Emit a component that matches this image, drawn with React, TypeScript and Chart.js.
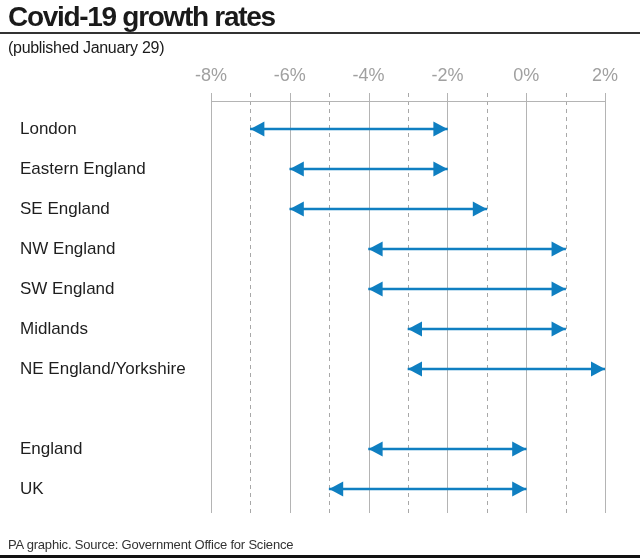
import React, { useEffect, useRef } from "react";
import { Chart, registerables } from "chart.js";

Chart.register(...registerables);

const categories = [
  "London",
  "Eastern England",
  "SE England",
  "NW England",
  "SW England",
  "Midlands",
  "NE England/Yorkshire",
  "",
  "England",
  "UK",
];
const lowValues = [-7, -6, -6, -4, -4, -3, -3, null, -4, -5];
const highValues = [-2, -2, -1, 1, 1, 1, 2, null, 0, 0];
const tickValues = [-8, -7, -6, -5, -4, -3, -2, -1, 0, 1, 2];
const tickLabels: Record<number, string> = { [-8]: "-8%", [-6]: "-6%", [-4]: "-4%", [-2]: "-2%", 0: "0%", 2: "2%" };

const BLUE = "#0f7fc1";
const FONT = "'Liberation Sans', Arial, sans-serif";

const gridPlugin = {
  id: "customGrid",
  beforeDatasetsDraw(chart: any) {
    const { ctx, chartArea, scales } = chart;
    const xs = scales.x;
    const topLine = chartArea.top - 7.5;
    ctx.save();
    ctx.lineWidth = 1;
    tickValues.forEach((v) => {
      const px = Math.round(xs.getPixelForValue(v)) + 0.5;
      const solid = v % 2 === 0;
      ctx.strokeStyle = solid ? "#b4b4b4" : "#a8a8a8";
      ctx.setLineDash(solid ? [] : [4, 4]);
      ctx.beginPath();
      ctx.moveTo(px, chartArea.top - 16);
      ctx.lineTo(px, chartArea.bottom + 4);
      ctx.stroke();
    });
    ctx.setLineDash([]);
    ctx.strokeStyle = "#b4b4b4";
    ctx.beginPath();
    ctx.moveTo(Math.round(xs.getPixelForValue(-8)), topLine);
    ctx.lineTo(Math.round(xs.getPixelForValue(2)) + 1, topLine);
    ctx.stroke();
    ctx.restore();
  },
};

const arrowPlugin = {
  id: "arrowHeads",
  afterDatasetsDraw(chart: any) {
    const { ctx } = chart;
    const meta = chart.getDatasetMeta(0);
    ctx.save();
    ctx.fillStyle = BLUE;
    const len = 14;
    const half = 7.5;
    meta.data.forEach((el: any, i: number) => {
      if (lowValues[i] == null) return;
      const y = el.y;
      const right = Math.max(el.x, el.base);
      const left = Math.min(el.x, el.base);
      ctx.beginPath();
      ctx.moveTo(right, y);
      ctx.lineTo(right - len, y - half);
      ctx.lineTo(right - len, y + half);
      ctx.closePath();
      ctx.fill();
      ctx.beginPath();
      ctx.moveTo(left, y);
      ctx.lineTo(left + len, y - half);
      ctx.lineTo(left + len, y + half);
      ctx.closePath();
      ctx.fill();
    });
    ctx.restore();
  },
};

export default function App() {
  const ref = useRef<HTMLCanvasElement | null>(null);

  useEffect(() => {
    if (!ref.current) return;
    const data = categories.map((_, i) =>
      lowValues[i] == null ? null : [lowValues[i] as number, highValues[i] as number]
    );
    const chart = new Chart(ref.current, {
      type: "bar",
      data: {
        labels: categories,
        datasets: [
          {
            data: data as any,
            backgroundColor: BLUE,
            borderWidth: 0,
            barThickness: 2,
            borderSkipped: false,
          },
        ],
      },
      options: {
        indexAxis: "y",
        animation: false,
        responsive: false,
        maintainAspectRatio: false,
        layout: { padding: { left: 20, right: 33, top: 0, bottom: 49 } },
        plugins: {
          legend: { display: false },
          tooltip: { enabled: false },
        },
        scales: {
          x: {
            position: "top",
            min: -8,
            max: 2,
            grid: { display: false, drawTicks: false },
            border: { display: false },
            afterBuildTicks(scale: any) {
              scale.ticks = tickValues.map((v) => ({ value: v }));
            },
            afterFit(scale: any) {
              scale.height = 109;
            },
            ticks: {
              autoSkip: false,
              maxRotation: 0,
              padding: 22,
              color: "#a0a0a0",
              font: { family: FONT, size: 18, weight: "normal" as any },
              callback: (v: any) => tickLabels[Number(v)] ?? "",
            },
          },
          y: {
            grid: { display: false, drawTicks: false },
            border: { display: false },
            afterFit(scale: any) {
              scale.width = 191;
            },
            ticks: {
              crossAlign: "far",
              padding: 0,
              color: "#1e1e1e",
              font: { family: FONT, size: 17 },
              autoSkip: false,
            },
          },
        },
      },
      plugins: [gridPlugin, arrowPlugin],
    });
    return () => chart.destroy();
  }, []);

  return (
    <div
      style={{
        position: "absolute",
        left: 0,
        top: 0,
        width: 640,
        height: 558,
        background: "#fff",
        overflow: "hidden",
        fontFamily: FONT,
      }}
    >
      <canvas ref={ref} width={640} height={558} style={{ position: "absolute", left: 0, top: 0 }} />
      <div
        style={{
          position: "absolute",
          left: 8,
          top: 3,
          fontSize: 28,
          lineHeight: "28px",
          fontWeight: 700,
          letterSpacing: -1.3,
          color: "#1a1a1a",
          whiteSpace: "nowrap",
        }}
      >
        Covid-19 growth rates
      </div>
      <div style={{ position: "absolute", left: 0, top: 32, width: 640, height: 2, background: "#333" }} />
      <div
        style={{
          position: "absolute",
          left: 8,
          top: 40,
          fontSize: 16,
          lineHeight: "16px",
          letterSpacing: -0.3,
          color: "#1a1a1a",
          whiteSpace: "nowrap",
        }}
      >
        (published January 29)
      </div>
      <div
        style={{
          position: "absolute",
          left: 8,
          top: 538,
          fontSize: 13,
          lineHeight: "13px",
          letterSpacing: -0.2,
          color: "#333",
          whiteSpace: "nowrap",
        }}
      >
        PA graphic. Source: Government Office for Science
      </div>
      <div style={{ position: "absolute", left: 0, top: 555, width: 640, height: 3, background: "#111" }} />
    </div>
  );
}
